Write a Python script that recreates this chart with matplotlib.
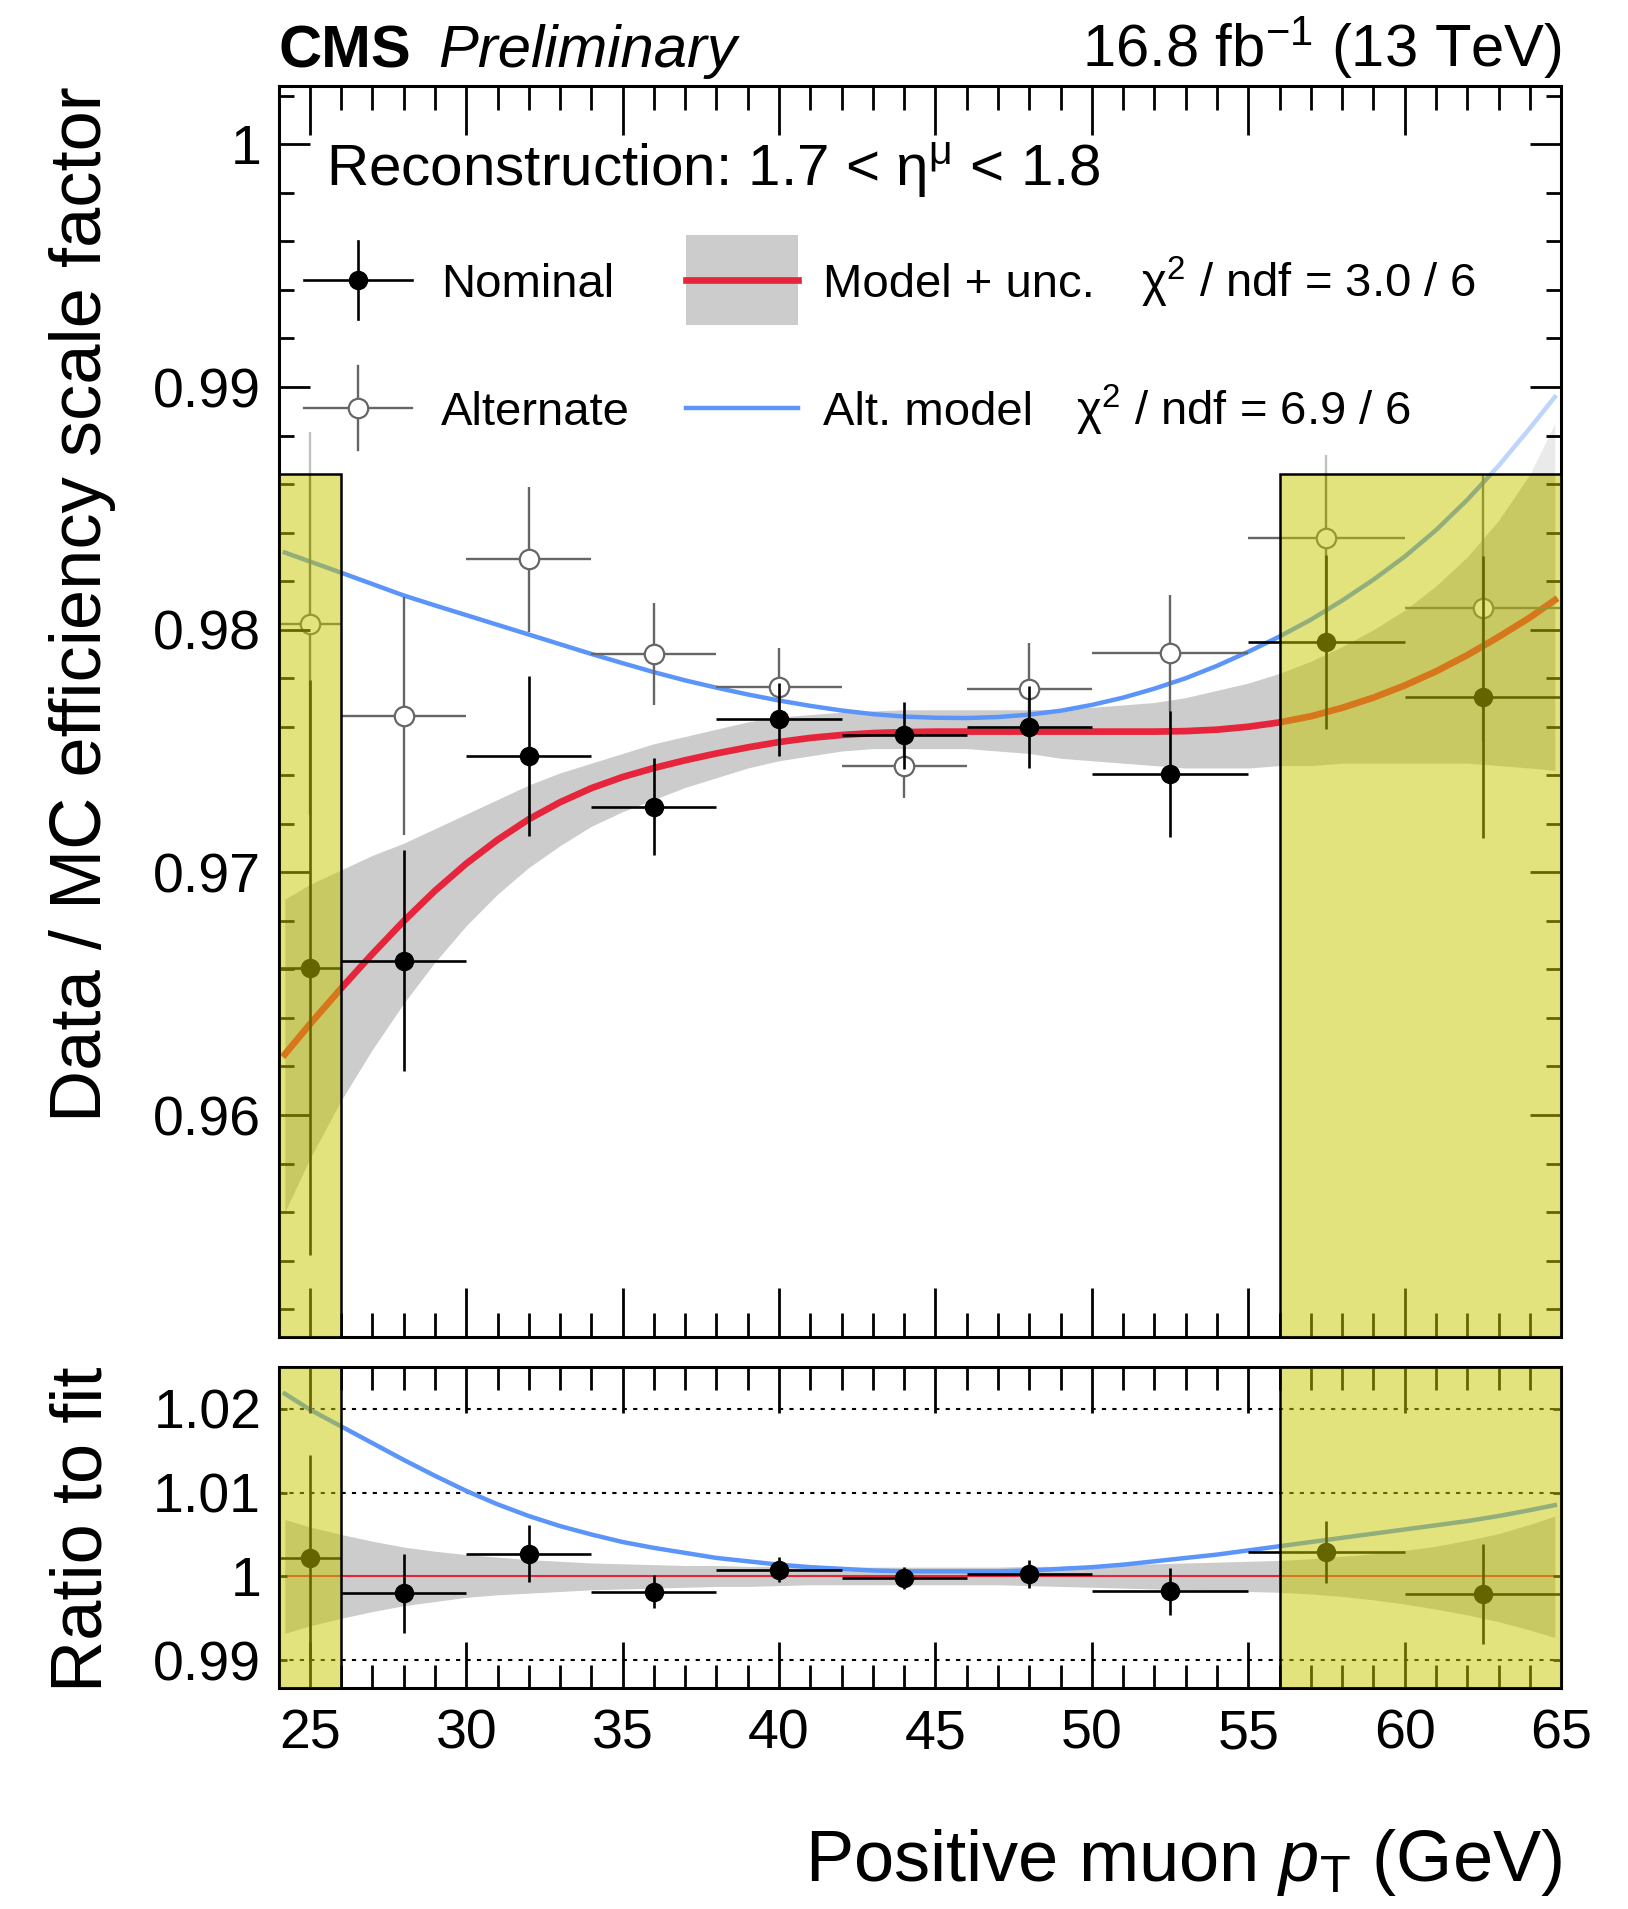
import matplotlib
matplotlib.use('Agg')
import matplotlib.pyplot as plt
from matplotlib.patches import Rectangle
from matplotlib.ticker import MultipleLocator, FixedLocator, FixedFormatter, FormatStrFormatter

plt.rcParams['font.family'] = ['Liberation Sans', 'DejaVu Sans']
plt.rcParams['mathtext.fontset'] = 'custom'
plt.rcParams['mathtext.rm'] = 'Liberation Sans'
plt.rcParams['mathtext.it'] = 'Liberation Sans:italic'
plt.rcParams['mathtext.bf'] = 'Liberation Sans:bold'

# pT bins (GeV)
bin_lo = [24, 26, 30, 34, 38, 42, 46, 50, 55, 60]
bin_hi = [26, 30, 34, 38, 42, 46, 50, 55, 60, 65]

# scale factors
nom_sf = [0.96607, 0.96636, 0.97481, 0.97270, 0.97631, 0.97564, 0.97598, 0.97404, 0.97949, 0.97723]
nom_err = [0.01185, 0.00455, 0.0033, 0.0020, 0.0015, 0.0014, 0.0017, 0.0026, 0.0036, 0.0058]
alt_sf = [0.98025, 0.97644, 0.98290, 0.97900, 0.97764, 0.97437, 0.97756, 0.97902, 0.98378, 0.98090]
alt_err = [0.0079, 0.0049, 0.0030, 0.0021, 0.0016, 0.0013, 0.0019, 0.0024, 0.0034, 0.0055]

# fitted curves, every GeV
fit_x = [24.2, 25, 26, 27, 28, 29, 30, 31, 32, 33, 34, 35, 36, 37, 38, 39, 40, 41, 42, 43, 44,
         45, 46, 47, 48, 49, 50, 51, 52, 53, 54, 55, 56, 57, 58, 59, 60, 61, 62, 63, 64, 64.8]
fit_nom = [0.96250, 0.96374, 0.96522, 0.96664, 0.96799, 0.96924, 0.97036, 0.97134, 0.97219,
           0.97289, 0.97347, 0.97393, 0.97430, 0.97462, 0.97490, 0.97515, 0.97537, 0.97554,
           0.97566, 0.97574, 0.97578, 0.97580, 0.97580, 0.97580, 0.97580, 0.97580, 0.97580,
           0.97580, 0.97580, 0.97582, 0.97588, 0.97600, 0.97618, 0.97643, 0.97678, 0.97720,
           0.97770, 0.97828, 0.97895, 0.97970, 0.98050, 0.98122]
fit_alt = [0.98318, 0.98281, 0.98235, 0.98188, 0.98141, 0.98100, 0.98060, 0.98020, 0.97980,
           0.97940, 0.97900, 0.97862, 0.97825, 0.97791, 0.97761, 0.97733, 0.97708, 0.97686,
           0.97667, 0.97652, 0.97642, 0.97637, 0.97636, 0.97640, 0.97650, 0.97666, 0.97690,
           0.97720, 0.97757, 0.97800, 0.97851, 0.97909, 0.97972, 0.98041, 0.98120, 0.98206,
           0.98301, 0.98410, 0.98535, 0.98675, 0.98830, 0.98959]
band_up = [0.9689, 0.9695, 0.9701, 0.9707, 0.9712, 0.9718, 0.9724, 0.9730, 0.9736, 0.9741,
           0.9745, 0.9749, 0.9753, 0.9756, 0.9759, 0.9762, 0.9764, 0.9765, 0.9766, 0.97665,
           0.9767, 0.9767, 0.9767, 0.9767, 0.9767, 0.97672, 0.9768, 0.9769, 0.9770, 0.9772,
           0.9775, 0.9778, 0.9782, 0.9787, 0.9793, 0.9800, 0.9808, 0.9818, 0.9830, 0.9845,
           0.9864, 0.9885]
band_lo = [0.9560, 0.9582, 0.9606, 0.9627, 0.9646, 0.9663, 0.9678, 0.9691, 0.9702, 0.9711,
           0.9719, 0.9725, 0.9730, 0.9735, 0.9739, 0.9743, 0.9746, 0.9748, 0.9750, 0.9751,
           0.9751, 0.9751, 0.9751, 0.9750, 0.9749, 0.9747, 0.9746, 0.9745, 0.9744, 0.9743,
           0.9743, 0.9743, 0.9744, 0.9744, 0.9745, 0.9745, 0.9745, 0.9745, 0.9745, 0.9744,
           0.9743, 0.9742]

# ratio panel
ratio_nom = [1.0022, 0.9980, 1.0027, 0.99817, 1.0008, 0.9998, 1.00028, 0.99825, 1.0029, 0.99789]
ratio_err = [0.0123, 0.0047, 0.0034, 0.0020, 0.0015, 0.0013, 0.0017, 0.0028, 0.0037, 0.0060]
ratio_alt = [1.0218, 1.0199, 1.0179, 1.0159, 1.0139, 1.0120, 1.0102, 1.0086, 1.0072, 1.0060,
             1.0050, 1.0041, 1.0034, 1.0028, 1.0022, 1.0018, 1.0014, 1.0011, 1.0009, 1.0007,
             1.0006, 1.0006, 1.0006, 1.0006, 1.0007, 1.0009, 1.0011, 1.0014, 1.0018, 1.0022,
             1.0026, 1.0031, 1.0036, 1.0041, 1.0046, 1.0051, 1.0056, 1.0061, 1.0066, 1.0072,
             1.0079, 1.0085]
ratio_up = [1.0068, 1.0059, 1.0050, 1.0042, 1.0035, 1.0030, 1.0026, 1.0023, 1.0020, 1.0018,
            1.0016, 1.0015, 1.0014, 1.0013, 1.0013, 1.0012, 1.0012, 1.0011, 1.0011, 1.0011,
            1.0011, 1.0011, 1.0011, 1.0011, 1.0012, 1.0012, 1.0013, 1.0014, 1.0015, 1.0016,
            1.0017, 1.0018, 1.0019, 1.0021, 1.0024, 1.0027, 1.0031, 1.0036, 1.0043, 1.0051,
            1.0062, 1.0072]
ratio_lo = [0.9932, 0.9941, 0.9950, 0.9958, 0.9965, 0.9970, 0.9975, 0.9978, 0.9980, 0.9982,
            0.9984, 0.9985, 0.9986, 0.9987, 0.9988, 0.9988, 0.9989, 0.9990, 0.9990, 0.9990,
            0.9990, 0.9990, 0.9990, 0.9990, 0.9989, 0.9988, 0.9987, 0.9986, 0.9985, 0.9984,
            0.9983, 0.9982, 0.9981, 0.9979, 0.9976, 0.9972, 0.9967, 0.9961, 0.9954, 0.9946,
            0.9936, 0.9927]

# excluded pT ranges (yellow)
excl_lo = [24, 56]
excl_hi = [26, 65]
excl_top = 0.9864

RED = '#e6243b'
BLUE = '#5b95f9'
GREY = '#666666'
YELLOW = (0.784, 0.784, 0.0, 0.51)

x_c = [(a + b) / 2 for a, b in zip(bin_lo, bin_hi)]
x_w = [(b - a) / 2 for a, b in zip(bin_lo, bin_hi)]

fig = plt.figure(figsize=(16.28, 19.09), dpi=100)
ax = fig.add_axes([0.1711, 0.2996, 0.7878, 0.6553])
ax2 = fig.add_axes([0.1711, 0.1158, 0.7878, 0.1682])


def style(a, xmaj, xmin, ymaj, ymin):
    a.set_axisbelow(False)
    for s in a.spines.values():
        s.set_linewidth(2.2)
    a.set_xlim(24, 65)
    a.xaxis.set_major_locator(MultipleLocator(5))
    a.xaxis.set_minor_locator(MultipleLocator(1))
    a.tick_params(which='both', direction='in', top=True, right=True, width=2.0, labelsize=40)
    a.tick_params(axis='x', which='major', length=xmaj, pad=15)
    a.tick_params(axis='x', which='minor', length=xmin)
    a.tick_params(axis='y', which='major', length=ymaj, pad=12.5)
    a.tick_params(axis='y', which='minor', length=ymin)


# ---- main panel ----
style(ax, 35, 17, 22, 11)
ax.set_ylim(0.95085, 1.0024)
ax.yaxis.set_major_locator(FixedLocator([0.96, 0.97, 0.98, 0.99, 1.0]))
ax.yaxis.set_major_formatter(FixedFormatter(['0.96', '0.97', '0.98', '0.99', '1']))
ax.yaxis.set_minor_locator(MultipleLocator(0.002))
ax.tick_params(axis='x', labelbottom=False)

ax.fill_between(fit_x, band_lo, band_up, color='#cccccc', lw=0, zorder=1)
ax.plot(fit_x, fit_alt, color=BLUE, lw=3.2, zorder=1.3)
ax.plot(fit_x, fit_nom, color=RED, lw=4.8, zorder=1.4)
ax.errorbar(x_c, alt_sf, xerr=x_w, yerr=alt_err, fmt='o', ms=14, mfc='white', mec=GREY,
            mew=1.6, ecolor=GREY, elinewidth=1.7, capsize=0, zorder=1.6)
ax.errorbar(x_c, nom_sf, xerr=x_w, yerr=nom_err, fmt='o', ms=13, color='black',
            elinewidth=1.9, capsize=0, zorder=1.8)

ylo, yhi = ax.get_ylim()
for lo, hi in zip(excl_lo, excl_hi):
    ax.add_patch(Rectangle((lo, excl_top), hi - lo, yhi - excl_top, facecolor='white',
                           alpha=0.6, lw=0, zorder=2.2))
    ax.add_patch(Rectangle((lo, ylo), hi - lo, excl_top - ylo, facecolor=YELLOW,
                           edgecolor='black', lw=1.8, zorder=3))

# legend drawn in axes fraction
T = ax.transAxes
y1, y2 = 0.8449, 0.7426
mx, hw = 0.0620, 0.0421
ax.plot([mx - hw, mx + hw], [y1, y1], color='black', lw=1.9, transform=T, zorder=5)
ax.plot([mx, mx], [y1 - 0.0312, y1 + 0.0312], color='black', lw=1.9, transform=T, zorder=5)
ax.plot([mx], [y1], 'o', ms=13, color='black', transform=T, zorder=6)
ax.plot([mx - hw, mx + hw], [y2, y2], color=GREY, lw=1.7, transform=T, zorder=5)
ax.plot([mx, mx], [y2 - 0.0336, y2 + 0.0336], color=GREY, lw=1.7, transform=T, zorder=5)
ax.plot([mx], [y2], 'o', ms=14, mfc='white', mec=GREY, mew=1.6, transform=T, zorder=6)
ax.add_patch(Rectangle((0.3174, 0.8090), 0.0873, 0.0719, facecolor='#cccccc', lw=0,
                       transform=T, zorder=5))
ax.plot([0.3174, 0.4047], [y1, y1], color=RED, lw=4.8, transform=T, zorder=6)
ax.plot([0.3174, 0.4047], [y2, y2], color=BLUE, lw=3.2, transform=T, zorder=6)
off = 0.0135
ax.text(0.1267, y1 - off, 'Nominal', fontsize=34, va='baseline', transform=T, zorder=6)
ax.text(0.1267, y2 - off, 'Alternate', fontsize=34, va='baseline', transform=T, zorder=6)
ax.text(0.4246, y1 - off, 'Model + unc.', fontsize=34, va='baseline', transform=T, zorder=6)
ax.text(0.6725, y1 - off, r'$\mathregular{\chi^{2}}$ / ndf = 3.0 / 6', fontsize=34,
        va='baseline', transform=T, zorder=6)
ax.text(0.4246, y2 - off, 'Alt. model', fontsize=34, va='baseline', transform=T, zorder=6)
ax.text(0.6218, y2 - off, r'$\mathregular{\chi^{2}}$ / ndf = 6.9 / 6', fontsize=34,
        va='baseline', transform=T, zorder=6)
ax.text(0.037, 0.9209, r'Reconstruction: 1.7 < $\mathregular{\eta^{\mu}}$ < 1.8', fontsize=42,
        va='baseline', transform=T, zorder=6)

# ---- ratio panel ----
style(ax2, 33, 16.5, 6, 0)
ax2.set_ylim(0.98669, 1.0250)
ax2.yaxis.set_major_locator(FixedLocator([0.99, 1.0, 1.01, 1.02]))
ax2.yaxis.set_major_formatter(FixedFormatter(['0.99', '1', '1.01', '1.02']))
ax2.xaxis.set_major_formatter(FormatStrFormatter('%d'))

for g in [0.99, 1.01, 1.02]:
    ax2.axhline(g, color='black', lw=1.5, ls=(0, (2, 3)), zorder=0.8)
ax2.fill_between(fit_x, ratio_lo, ratio_up, color='#cccccc', lw=0, zorder=1)
ax2.hlines(1.0, fit_x[0], fit_x[-1], color=RED, lw=1.5, zorder=1.2)
ax2.plot(fit_x, ratio_alt, color=BLUE, lw=3.2, zorder=1.3)
ax2.errorbar(x_c, ratio_nom, xerr=x_w, yerr=ratio_err, fmt='o', ms=13, color='black',
             elinewidth=1.9, capsize=0, zorder=1.8)
rlo, rhi = ax2.get_ylim()
for lo, hi in zip(excl_lo, excl_hi):
    ax2.add_patch(Rectangle((lo, rlo), hi - lo, rhi - rlo, facecolor=YELLOW,
                            edgecolor='black', lw=1.8, zorder=3))

# ---- titles ----
fig.text(0.1708, 0.9649, 'CMS', fontsize=43, fontweight='bold', va='baseline')
fig.text(0.2692, 0.9649, 'Preliminary', fontsize=43, style='italic', va='baseline')
fig.text(0.9595, 0.9649, r'16.8 fb$^{\mathregular{-1}}$ (13 TeV)', fontsize=43,
         ha='right', va='baseline')
fig.text(0.0504, 0.955, 'Data / MC efficiency scale factor', fontsize=52, rotation=90,
         ha='center', va='top')
fig.text(0.051, 0.2844, 'Ratio to fit', fontsize=52, rotation=90, ha='center', va='top')
fig.text(0.9595, 0.0147, r'Positive muon $\mathit{p}_{\mathregular{T}}$ (GeV)', fontsize=52,
         ha='right', va='baseline')

fig.savefig('out.png', dpi=100)
